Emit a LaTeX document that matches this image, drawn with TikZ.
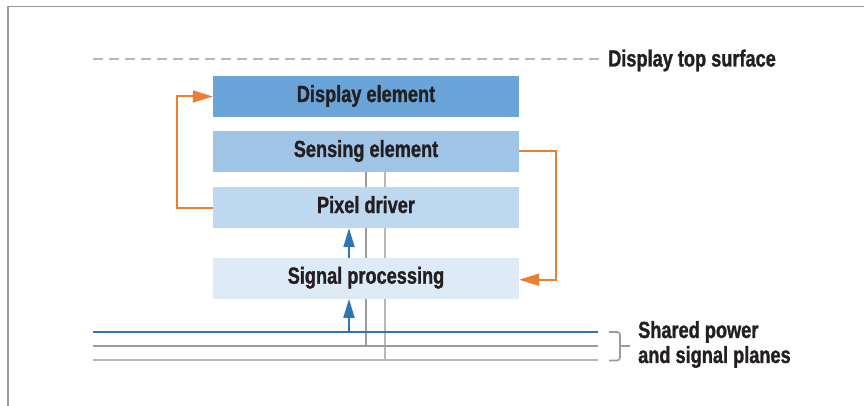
\documentclass[tikz,border=0pt]{standalone}
\usepackage{fontspec}
\setmainfont{Liberation Sans}[FakeStretch=0.78, BoldFeatures={FakeBold=1.2}]
\usetikzlibrary{arrows.meta,calc}
\pgfdeclarelayer{background}
\pgfsetlayers{background,main}
\definecolor{cDisp}{HTML}{6AA4D8}
\definecolor{cSens}{HTML}{A0C4E6}
\definecolor{cPix}{HTML}{BDD8EF}
\definecolor{cSig}{HTML}{DEEBF7}
\definecolor{cOrange}{HTML}{ED7D31}
\definecolor{cBlue}{HTML}{2E75B6}
\definecolor{cTxt}{HTML}{231F20}
\definecolor{cFrame}{HTML}{9A9A9A}
\definecolor{cGrayA}{HTML}{9C9C9C}
\definecolor{cGrayB}{HTML}{B8B8B8}
\tikzset{
  layerbox/.style={draw=none, minimum width=306pt, minimum height=41pt, inner sep=0pt,
    text height=16pt, text depth=5pt, text=cTxt,
    font=\fontsize{23.3}{25}\selectfont\bfseries},
  lbl/.style={inner sep=0pt, text=cTxt, font=\fontsize{23.3}{25}\selectfont\bfseries},
  feedback/.style={draw=cOrange, line width=2pt, -{Triangle[length=20pt,width=12pt]}},
  upflow/.style={draw=cBlue, line width=2pt, -{Triangle[length=19pt,width=11pt]}},
  plane/.style={line width=2pt},
  via/.style={line width=2pt},
}
\begin{document}
\begin{tikzpicture}[x=1pt,y=-1pt]
\useasboundingbox (0,0) rectangle (864,406);
% frame
\draw[cFrame, line width=1.5pt] (8,406) -- (8,6.5) -- (864,6.5);

% display top surface
\coordinate (ds1) at (93,59);
\coordinate (ds2) at (600,59);
\draw[cGrayB, line width=1.5pt, dash pattern=on 10pt off 6pt] (ds1) -- (ds2);
\node[lbl, anchor=base west] (dtop) at (608,66.5) {Display top surface};

% layers
\node[layerbox, fill=cDisp] (disp) at (366,96.5) {Display element};
\node[layerbox, fill=cSens] (sens) at (366,151.5) {Sensing element};
\node[layerbox, fill=cPix]  (pix)  at (366,207.5) {Pixel driver};
\node[layerbox, fill=cSig]  (sig)  at (366,278.2) {Signal processing};

% planes
\coordinate (b1) at (93,332);  \coordinate (b2) at (598,332);
\coordinate (g1) at (93,346);  \coordinate (g2) at (598,346);
\coordinate (h1) at (93,359.5);\coordinate (h2) at (598,359.5);
\coordinate (va) at (366,0);
\coordinate (vb) at (385,0);
\coordinate (bx) at (349,0);

\begin{pgfonlayer}{background}
\draw[via, cGrayA] (va |- sens.south) -- (va |- g1);
\draw[via, cGrayB] (vb |- sens.south) -- (vb |- h1);
\end{pgfonlayer}
\draw[plane, cBlue] (b1) -- (b2);
\draw[plane, cGrayA] (g1) -- (g2);
\draw[plane, cGrayB] (h1) -- (h2);

% upward flow
\draw[upflow] (bx |- sig.north) -- (bx |- pix.south);
\draw[upflow] (bx |- b1) -- (bx |- sig.south);

% feedback loops
\draw[feedback] (pix.west) -- ++(-36,0) |- (disp.west);
\draw[feedback] (sens.east) -- ++(37,0) |- ($(sig.east)+(0,1.5)$);

% brace and label
\draw[cFrame, line width=1.6pt, rounded corners=3pt] (609,332) -- (620,332) -- (620,360.5) -- (609,360.5);
\draw[cFrame, line width=1.6pt] (620,346) -- (630,346);
\node[lbl, anchor=west, align=left] (planes) at (638,344.5) {Shared power\\and signal planes};
\end{tikzpicture}
\end{document}
